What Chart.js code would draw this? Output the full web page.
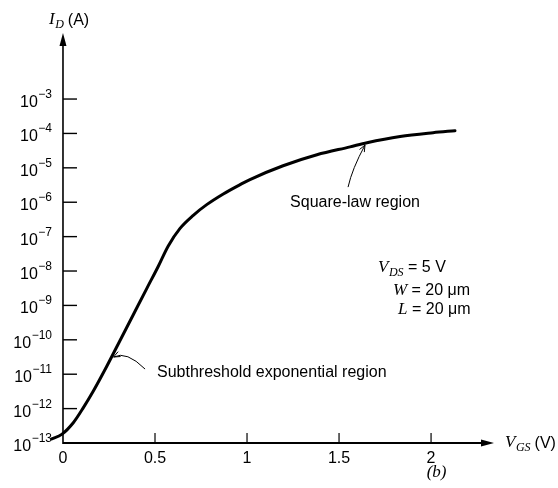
<!DOCTYPE html>
<html><head><meta charset="utf-8">
<script src="https://cdn.jsdelivr.net/npm/chart.js@4/dist/chart.umd.min.js"></script>
<style>html,body{margin:0;padding:0;background:#fff}#wrap{width:558px;height:488px}</style>
</head><body><div id="wrap"><canvas id="c" width="558" height="488"></canvas></div>
<script>
// ---- data ----
const vgs = [-0.061, -0.007, 0.056, 0.110, 0.165, 0.238, 0.310, 0.382, 0.455, 0.518, 0.572, 0.636, 0.708, 0.781, 0.871, 0.962, 1.016, 1.196, 1.380, 1.560, 1.652, 1.832, 2.011, 2.130];
const idAmps = [1.32e-13, 1.78e-13, 3.89e-13, 1.05e-12, 3.24e-12, 1.70e-11, 9.55e-11, 5.37e-10, 3.09e-9, 1.38e-8, 5.37e-8, 1.74e-7, 4.17e-7, 8.5e-7, 1.74e-6, 3.24e-6, 4.57e-6, 1.15e-5, 2.40e-5, 4.07e-5, 5.37e-5, 8.13e-5, 1.05e-4, 1.2e-4];
const xTickValues = [0, 0.5, 1, 1.5, 2];
const xTickLabels = ['0', '0.5', '1', '1.5', '2'];
const yTickExponents = [-13, -12, -11, -10, -9, -8, -7, -6, -5, -4, -3];
const paramLines = [['V', 'DS', ' = 5 V'], ['W', '', ' = 20 \u03bcm'], ['L', '', ' = 20 \u03bcm']];

const SANS = '"Liberation Sans", Arial, sans-serif';
const SERIF = '"Liberation Serif", "Times New Roman", serif';

function arrowHeadOpen(ctx, tx, ty, fx, fy, len, half) {
  const a = Math.atan2(ty - fy, tx - fx);
  ctx.beginPath();
  ctx.moveTo(tx - len * Math.cos(a - half), ty - len * Math.sin(a - half));
  ctx.lineTo(tx, ty);
  ctx.lineTo(tx - len * Math.cos(a + half), ty - len * Math.sin(a + half));
  ctx.stroke();
}
function arrowHeadFilled(ctx, tx, ty, fx, fy, len, w) {
  const a = Math.atan2(ty - fy, tx - fx);
  const bx = tx - len * Math.cos(a), by = ty - len * Math.sin(a);
  const px = -Math.sin(a) * w / 2, py = Math.cos(a) * w / 2;
  ctx.beginPath();
  ctx.moveTo(tx, ty);
  ctx.lineTo(bx + px, by + py);
  ctx.lineTo(bx - px, by - py);
  ctx.closePath();
  ctx.fill();
}
function italicSub(ctx, x, y, main, sub, size) {
  ctx.font = 'italic ' + size + 'px ' + SERIF;
  ctx.textAlign = 'left';
  ctx.fillText(main, x, y);
  let w = ctx.measureText(main).width;
  if (sub) {
    ctx.font = 'italic ' + Math.round(size * 0.72) + 'px ' + SERIF;
    ctx.fillText(sub, x + w + 0.5, y + 4);
    w += ctx.measureText(sub).width + 0.5;
  }
  return x + w;
}

const axesPlugin = {
  id: 'axesPlugin',
  beforeDatasetsDraw(chart) {
    const ctx = chart.ctx, xs = chart.scales.x, ys = chart.scales.y, ca = chart.chartArea;
    const x0 = xs.getPixelForValue(0);
    const yb = ys.getPixelForValue(1e-13);
    ctx.save();
    ctx.strokeStyle = '#000'; ctx.fillStyle = '#000';
    // y axis
    ctx.lineWidth = 1.6;
    ctx.beginPath(); ctx.moveTo(x0, yb + 1); ctx.lineTo(x0, ca.top + 8); ctx.stroke();
    arrowHeadFilled(ctx, x0, ca.top, x0, yb, 13, 7);
    // x axis
    ctx.lineWidth = 2;
    ctx.beginPath(); ctx.moveTo(x0, yb); ctx.lineTo(ca.right - 8, yb); ctx.stroke();
    arrowHeadFilled(ctx, ca.right, yb, x0, yb, 13, 7);
    // y ticks + labels
    ctx.lineWidth = 1.4;
    yTickExponents.forEach(e => {
      const py = ys.getPixelForValue(Math.pow(10, e));
      if (e > -13) { ctx.beginPath(); ctx.moveTo(x0, py); ctx.lineTo(x0 + 14, py); ctx.stroke(); }
      const sup = '\u2212' + Math.abs(e);
      ctx.font = '12px ' + SANS; const ws = ctx.measureText(sup).width;
      ctx.font = '16px ' + SANS; const wb = ctx.measureText('10').width;
      const right = x0 - 11;
      ctx.textAlign = 'left'; ctx.textBaseline = 'alphabetic';
      ctx.fillText('10', right - ws - wb - 0.5, py + 8);
      ctx.font = '12px ' + SANS;
      ctx.fillText(sup, right - ws, py - 1);
    });
    // x ticks + labels
    ctx.lineWidth = 1.2;
    xTickValues.forEach((v, i) => {
      const px = xs.getPixelForValue(v);
      if (v !== 0) { ctx.beginPath(); ctx.moveTo(px, yb); ctx.lineTo(px, yb - 10); ctx.stroke(); }
      ctx.font = '16px ' + SANS; ctx.textAlign = 'center'; ctx.textBaseline = 'alphabetic';
      ctx.fillText(xTickLabels[i], px, yb + 20);
    });
    ctx.restore();
  },
  afterDatasetsDraw(chart) {
    const ctx = chart.ctx, xs = chart.scales.x, ys = chart.scales.y, ca = chart.chartArea;
    const P = (x, lg) => [xs.getPixelForValue(x), ys.getPixelForValue(Math.pow(10, lg))];
    ctx.save();
    ctx.fillStyle = '#000'; ctx.strokeStyle = '#000'; ctx.textBaseline = 'alphabetic';
    // axis titles
    const x0 = xs.getPixelForValue(0);
    let xe = italicSub(ctx, x0 - 14, 24, 'I', 'D', 17);
    ctx.font = '16px ' + SANS; ctx.textAlign = 'left';
    ctx.fillText('(A)', xe + 4, 25);
    const yb = ys.getPixelForValue(1e-13);
    xe = italicSub(ctx, ca.right + 11, yb + 4, 'V', 'GS', 17);
    ctx.font = '16px ' + SANS; ctx.textAlign = 'left';
    ctx.fillText('(V)', xe + 4, yb + 5);
    ctx.font = 'italic 17px ' + SERIF; ctx.textAlign = 'center';
    ctx.fillText('(b)', xs.getPixelForValue(2.03), yb + 34);
    // subthreshold annotation
    ctx.lineWidth = 1;
    let h = P(0.275, -10.5), c = P(0.345, -10.31), t = P(0.446, -10.85);
    ctx.beginPath(); ctx.moveTo(t[0], t[1]); ctx.quadraticCurveTo(c[0], c[1], h[0], h[1]); ctx.stroke();
    arrowHeadOpen(ctx, h[0], h[1], c[0], c[1], 7, 0.4);
    ctx.font = '16px ' + SANS; ctx.textAlign = 'left';
    let tp = P(0.511, -11.08);
    ctx.fillText('Subthreshold exponential region', tp[0], tp[1]);
    // square-law annotation
    h = P(1.641, -4.34); c = P(1.571, -5.03); t = P(1.549, -5.56);
    ctx.beginPath(); ctx.moveTo(t[0], t[1]); ctx.quadraticCurveTo(c[0], c[1], h[0], h[1]); ctx.stroke();
    arrowHeadOpen(ctx, h[0], h[1], c[0], c[1], 7, 0.4);
    tp = P(1.234, -6.14);
    ctx.fillText('Square-law region', tp[0], tp[1]);
    // parameters
    const pl = [P(1.712, -8.03), P(1.793, -8.70), P(1.821, -9.25)];
    paramLines.forEach((ln, i) => {
      const e = italicSub(ctx, pl[i][0], pl[i][1], ln[0], ln[1], 17);
      ctx.font = '16px ' + SANS; ctx.textAlign = 'left';
      ctx.fillText(ln[2], e, pl[i][1]);
    });
    ctx.restore();
  }
};

new Chart(document.getElementById('c'), {
  type: 'line',
  data: {
    datasets: [{
      data: vgs.map((v, i) => ({ x: v, y: idAmps[i] })),
      borderColor: '#000', borderWidth: 3, pointRadius: 0, fill: false,
      cubicInterpolationMode: 'monotone', clip: false, borderCapStyle: 'round', borderJoinStyle: 'round'
    }]
  },
  options: {
    responsive: false, animation: false,
    layout: { padding: { left: 49, right: 64, top: 33, bottom: 45 } },
    plugins: { legend: { display: false }, tooltip: { enabled: false } },
    scales: {
      x: { type: 'linear', min: -0.076, max: 2.342, display: false },
      y: { type: 'logarithmic', min: 1e-13, max: Math.pow(10, -1.08), display: false }
    }
  },
  plugins: [axesPlugin]
});
</script></body></html>
